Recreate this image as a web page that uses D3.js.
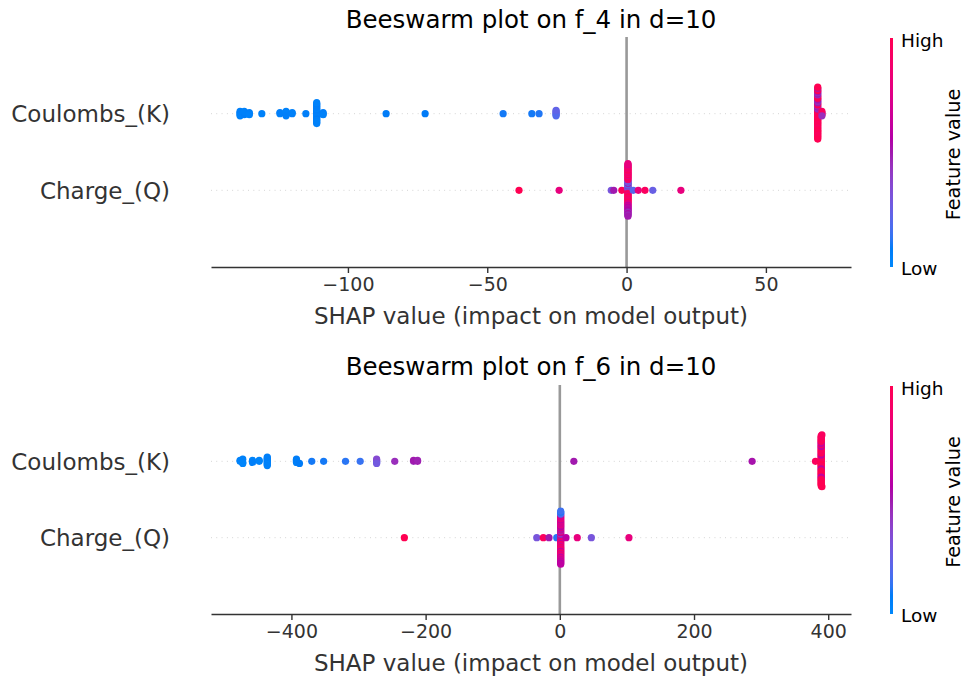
<!DOCTYPE html>
<html><head><meta charset="utf-8">
<script src="https://cdn.jsdelivr.net/npm/d3@7"></script>
<style>
body{margin:0;background:#fff}
svg{display:block}
text{font-family:"DejaVu Sans",sans-serif}
</style>
</head><body>
<svg id="chart" width="964" height="681"></svg>
<script>
// ---------------- DATA ----------------
const features = ["Charge_(Q)", "Coulombs_(K)"]; // bottom row first (pos 0), top row (pos 1)
const titles = ["Beeswarm plot on f_4 in d=10", "Beeswarm plot on f_6 in d=10"];
const axisLabel = "SHAP value (impact on model output)";
const colorbarLabels = ["High", "Low", "Feature value"];
const f4Ticks = [-100, -50, 0, 50];
const f6Ticks = [-400, -200, 0, 200, 400];

// f_4 : Coulombs_(K)
const f4CoulombsShap = [
  -138.7,-138.7,-138.7,-138.7,-138.7,
  -137.2,-137.2,-137.2,-137.2,
  -135.4,-135.4,-135.4,
  -130.9,
  -124.4,-124.4,
  -122.2,-122.2,-122.2,-122.2,-122.2,
  -120.0,-120.0,
  -115.1,
  -111.2,-111.2,-111.2,-111.2,-111.2,-111.2,-111.2,-111.2,-111.2,-111.2,
  -111.2,-111.2,-111.2,-111.2,-111.2,-111.2,-111.2,-111.2,-111.2,-111.2,
  -108.9,-108.9,-108.9,
  -86.3,-72.3,-44.3,-34.0,-31.4,
  -25.3,-25.3,-25.3,-25.3,-25.3,-25.3,
  68.6,68.6,68.6,68.6,68.6,68.6,68.6,68.6,68.6,68.6,
  68.6,68.6,68.6,68.6,68.6,68.6,68.6,68.6,68.6,68.6,
  68.6,68.6,68.6,68.6,68.6,68.6,68.6,68.6,68.6,68.6,
  68.6,68.6,68.6,68.6,68.6,68.6,68.6,68.6,68.6,68.6,
  68.6,68.6,68.6,68.6,68.6,68.6,68.6,68.6,
  70.1,70.1,70.1,70.1,70.1
];
const f4CoulombsValue = [
  0.02,0.05,0.03,0.06,0.04,
  0.04,0.02,0.07,0.05,
  0.03,0.06,0.04,
  0.05,
  0.04,0.06,
  0.05,0.03,0.07,0.04,0.06,
  0.06,0.05,
  0.07,
  0.04,0.06,0.03,0.08,0.05,0.07,0.04,0.06,0.05,0.03,
  0.08,0.06,0.04,0.07,0.05,0.06,0.03,0.08,0.05,0.04,
  0.06,0.07,0.05,
  0.08,0.09,0.1,0.1,0.11,
  0.18,0.22,0.2,0.25,0.19,0.23,
  0.95,1.0,1.0,0.95,0.92,1.0,0.97,0.5,1.0,0.45,
  0.99,0.52,0.96,0.47,1.0,1.0,0.98,0.95,1.0,0.5,
  0.95,0.45,0.97,0.48,0.99,0.52,0.9,1.0,0.96,0.97,
  0.98,1.0,1.0,0.46,0.97,0.5,1.0,0.45,0.99,0.52,
  0.93,1.0,0.98,0.95,0.96,0.5,1.0,1.0,
  0.9,0.4,1.0,0.95,0.45
];

// f_4 : Charge_(Q)
const f4ChargeShap = [
  -38.6,-24.2,-5.5,-4.6,-1.7,
  0.5,0.5,0.5,0.5,0.5,0.5,0.5,0.5,0.5,0.5,
  0.5,0.5,0.5,0.5,0.5,0.5,0.5,0.5,0.5,0.5,
  0.5,0.5,0.5,0.5,0.5,0.5,0.5,0.5,0.5,0.5,
  0.5,0.5,0.5,0.5,0.5,0.5,0.5,0.5,0.5,0.5,
  0.5,0.5,0.5,0.5,0.5,0.5,0.5,0.5,0.5,0.5,
  0.5,0.5,0.5,0.5,0.5,0.5,0.5,0.5,0.5,0.5,
  2.4,4.2,6.6,9.4,19.5
];
const f4ChargeValue = [
  1.0,0.8,0.3,0.5,0.97,
  0.3,0.25,0.9,0.4,0.95,0.2,0.85,0.3,1.0,0.45,
  0.9,0.2,0.8,0.25,0.95,0.5,1.0,0.2,0.9,0.35,
  0.97,0.25,0.85,0.85,0.95,0.95,0.9,0.8,1.0,1.0,
  0.75,0.9,0.8,0.75,0.6,1.0,0.7,0.85,0.55,0.95,
  0.65,0.8,0.5,0.9,0.6,1.0,0.55,0.85,0.5,0.95,
  0.45,0.8,0.55,0.9,0.5,0.85,0.45,0.75,0.5,0.8,
  0.2,0.8,0.95,0.25,0.8
];

// f_6 : Coulombs_(K)
const f6CoulombsShap = [
  -476.5,-476.5,
  -472.5,-472.5,-472.5,
  -458,-458,-458,
  -448,-448,
  -436,-436,-436,-436,-436,-436,-436,-436,-436,
  -392.5,-392.5,-392.5,-392.5,
  -388,-369.7,-352,-319.4,-297.5,
  -273,-273,-273,-273,-273,
  -246,
  -218,-218,
  -212,-212,
  20.9,286.6,381,
  389.5,389.5,389.5,389.5,389.5,389.5,389.5,389.5,389.5,389.5,
  389.5,389.5,389.5,389.5,389.5,389.5,389.5,389.5,389.5,389.5,
  389.5,389.5,389.5,389.5,389.5,389.5,389.5,389.5,389.5,389.5,
  389.5,389.5,389.5,389.5,389.5,389.5,389.5,389.5,389.5,389.5,
  389.5,389.5,389.5,389.5,389.5,389.5,389.5,389.5,
  390.6,390.6
];
const f6CoulombsValue = [
  0.02,0.04,
  0.03,0.05,0.02,
  0.04,0.03,0.06,
  0.05,0.03,
  0.04,0.06,0.03,0.05,0.07,0.04,0.02,0.06,0.05,
  0.06,0.08,0.05,0.07,
  0.09,0.1,0.1,0.12,0.14,
  0.25,0.3,0.22,0.35,0.28,
  0.45,
  0.45,0.5,
  0.5,0.48,
  0.5,0.52,0.95,
  1.0,0.95,1.0,0.97,1.0,0.95,1.0,0.98,1.0,0.95,
  0.95,0.6,0.97,0.62,0.6,1.0,0.62,0.98,1.0,0.95,
  1.0,0.97,1.0,0.95,1.0,0.98,1.0,0.6,1.0,0.62,
  0.6,1.0,0.62,0.6,1.0,0.65,0.98,1.0,1.0,0.95,
  1.0,0.97,1.0,0.95,1.0,0.98,1.0,0.95,
  1.0,0.95
];

// f_6 : Charge_(Q)
const f6ChargeShap = [
  -231.7,-34.4,-24.6,-16.1,-4.6,
  1.3,1.3,1.3,1.3,1.3,1.3,1.3,1.3,1.3,1.3,
  1.3,1.3,1.3,1.3,1.3,1.3,1.3,1.3,1.3,1.3,
  1.3,1.3,1.3,1.3,1.3,1.3,1.3,1.3,1.3,1.3,
  1.3,1.3,1.3,1.3,1.3,1.3,1.3,1.3,1.3,1.3,
  1.3,1.3,1.3,1.3,1.3,1.3,1.3,1.3,1.3,1.3,
  1.3,1.3,1.3,1.3,1.3,
  9.2,26,47,103
];
const f6ChargeValue = [
  1.0,0.3,0.95,0.5,0.12,
  1.0,0.3,0.15,0.55,1.0,0.8,0.5,0.35,0.9,0.6,
  0.85,0.9,0.6,0.45,0.95,0.75,0.8,0.5,0.7,0.85,
  1.0,0.6,0.75,0.55,0.9,0.8,0.85,0.7,0.6,0.75,
  0.8,0.65,0.95,0.8,0.7,0.6,0.9,0.75,0.75,0.85,
  0.6,0.7,0.8,0.8,0.65,0.65,0.75,0.15,0.6,0.2,
  0.7,0.1,0.55,0.15,0.6,
  0.6,0.8,0.3,0.8
];

// ---------------- DRAWING ----------------
function shapColor(t) {
  t = Math.max(0, Math.min(1, t));
  const L = t < 0.5 ? 54 - 14 * (t / 0.5) : 40 + 14 * ((t - 0.5) / 0.5);
  const C = 70 + 20 * t;
  const H = (4.6588 + (0.35470565 + 2 * Math.PI - 4.6588) * t) * 180 / Math.PI;
  return d3.hcl(H, C, L).formatHex();
}

// SHAP style beeswarm offsets
function swarm(vals, rowHeight) {
  const n = vals.length;
  const mn = d3.min(vals), mx = d3.max(vals);
  const quant = vals.map(v => Math.round(100 * (v - mn) / (mx - mn + 1e-8)));
  const inds = d3.range(n).sort((a, b) => (quant[a] - quant[b]) || (a - b));
  const ys = new Array(n).fill(0);
  let layer = 0, last = -1;
  for (const ind of inds) {
    if (quant[ind] !== last) layer = 0;
    ys[ind] = Math.ceil(layer / 2) * ((layer % 2) * 2 - 1);
    layer++;
    last = quant[ind];
  }
  const m = d3.max(ys.map(y => y + 1));
  return ys.map(y => y * 0.9 * (rowHeight / m));
}

const svg = d3.select("#chart");
const defs = svg.append("defs");
const grad = defs.append("linearGradient").attr("id", "cbgrad")
  .attr("x1", 0).attr("y1", 1).attr("x2", 0).attr("y2", 0);
d3.range(0, 1.0001, 0.02).forEach(t => {
  grad.append("stop").attr("offset", t).attr("stop-color", shapColor(t));
});

const panels = [
  { title: titles[0], rows: [[f4ChargeShap, f4ChargeValue], [f4CoulombsShap, f4CoulombsValue]],
    ticks: f4Ticks, top: 37, bottom: 267, titleY: 28 },
  { title: titles[1], rows: [[f6ChargeShap, f6ChargeValue], [f6CoulombsShap, f6CoulombsValue]],
    ticks: f6Ticks, top: 385, bottom: 614, titleY: 375 }
];

const left = 211, right = 851;

panels.forEach(p => {
  const g = svg.append("g");
  const all = p.rows.flatMap(r => r[0]);
  const mn = d3.min(all), mx = d3.max(all), pad = 0.05 * (mx - mn);
  const x = d3.scaleLinear().domain([mn - pad, mx + pad]).range([left, right]);
  const y = d3.scaleLinear().domain([-1, 2]).range([p.bottom, p.top]);

  // grid lines
  features.forEach((f, pos) => {
    g.append("line").attr("x1", left).attr("x2", right)
      .attr("y1", y(pos)).attr("y2", y(pos))
      .attr("stroke", "#cccccc").attr("stroke-width", 0.9)
      .attr("stroke-dasharray", "0.9,4.4");
  });
  // zero line
  g.append("line").attr("x1", x(0)).attr("x2", x(0))
    .attr("y1", p.top).attr("y2", p.bottom)
    .attr("stroke", "#999999").attr("stroke-width", 2.6);

  // points
  p.rows.forEach((r, pos) => {
    const offs = swarm(r[0], 0.4);
    g.append("g").selectAll("circle").data(r[0]).join("circle")
      .attr("cx", d => x(d))
      .attr("cy", (d, i) => y(pos + offs[i]))
      .attr("r", 3.6)
      .attr("fill", (d, i) => shapColor(r[1][i]));
  });

  // feature labels
  features.forEach((f, pos) => {
    g.append("text").attr("x", 170).attr("y", y(pos) + 8.3)
      .attr("text-anchor", "end").attr("font-size", 23).attr("fill", "#333333")
      .text(f);
  });

  // x axis
  const ax = g.append("g").attr("transform", `translate(0,${p.bottom})`)
    .call(d3.axisBottom(x).tickValues(p.ticks).tickSize(6).tickSizeOuter(0).tickPadding(5)
      .tickFormat(d => d3.format("d")(d).replace("-", "\u2212")));
  ax.select(".domain").attr("stroke", "#333333").attr("stroke-width", 1.4);
  ax.selectAll(".tick line").attr("stroke", "#333333").attr("stroke-width", 1.4);
  ax.selectAll(".tick text").attr("font-size", 19).attr("fill", "#333333")
    .attr("font-family", "DejaVu Sans");

  g.append("text").attr("x", (left + right) / 2).attr("y", p.bottom + 57)
    .attr("text-anchor", "middle").attr("font-size", 23).attr("fill", "#333333")
    .text(axisLabel);

  // title
  g.append("text").attr("x", (left + right) / 2).attr("y", p.titleY)
    .attr("text-anchor", "middle").attr("font-size", 24.5).attr("fill", "#000")
    .text(p.title);

  // colorbar
  const cbTop = p.top + 1, cbBottom = p.bottom;
  g.append("rect").attr("x", 890).attr("y", cbTop).attr("width", 3)
    .attr("height", cbBottom - cbTop).attr("fill", "url(#cbgrad)");
  g.append("text").attr("x", 901).attr("y", cbTop + 9).attr("font-size", 18.5)
    .attr("fill", "#000").text(colorbarLabels[0]);
  g.append("text").attr("x", 901).attr("y", cbBottom + 8).attr("font-size", 18.5)
    .attr("fill", "#000").text(colorbarLabels[1]);
  const cy = (cbTop + cbBottom) / 2 + 2;
  g.append("text").attr("transform", `translate(960,${cy}) rotate(-90)`)
    .attr("text-anchor", "middle").attr("font-size", 19.3)
    .attr("fill", "#000").text(colorbarLabels[2]);
});
</script>
</body></html>
